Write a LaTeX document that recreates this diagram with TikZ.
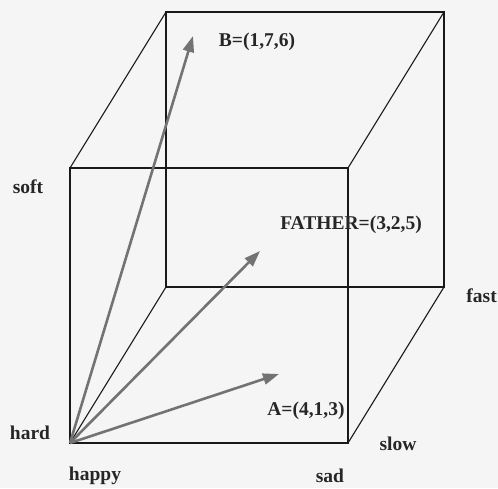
\documentclass[tikz,border=0pt]{standalone}
\usepackage{fontspec}
\setmainfont{Liberation Serif}
\usetikzlibrary{arrows.meta}
\begin{document}
\begin{tikzpicture}[x=1pt,y=-1pt,
  edge/.style={draw=black!90,line width=1.1pt},
  vec/.style={draw=black!55,line width=2.6pt,-{Triangle[length=16pt,width=11pt]}},
  lbl/.style={font=\fontsize{19.5}{19.5}\selectfont\bfseries,inner sep=0pt,text=black!85}]
\useasboundingbox (0,0) rectangle (498,488);
\fill[black!4] (0,0) rectangle (498,488);
% front face
\coordinate (f1) at (70,443);
\coordinate (f2) at (348,443);
\coordinate (f3) at (348,168);
\coordinate (f4) at (70,168);
% back face
\coordinate (b1) at (166,287);
\coordinate (b2) at (444,287);
\coordinate (b3) at (444,12);
\coordinate (b4) at (166,12);
\draw[edge] (b1) -- (b2) -- (b3) -- (b4) -- cycle;
\draw[edge] (f1) -- (b1) (f2) -- (b2) (f3) -- (b3) (f4) -- (b4);
\draw[edge] (f1) -- (f2) -- (f3) -- (f4) -- cycle;
% vectors
\coordinate (tB) at (193,36);
\coordinate (tF) at (260,251);
\coordinate (tA) at (279,374);
\draw[vec] (f1) -- (tB);
\draw[vec] (f1) -- (tF);
\draw[vec] (f1) -- (tA);
% labels
\node[lbl] (lB) at (257,42) {B=(1,7,6)};
\node[lbl] (lF) at (351,225) {FATHER=(3,2,5)};
\node[lbl] (lA) at (306,411) {A=(4,1,3)};
\node[lbl] (soft) at (28,187) {soft};
\node[lbl] (hard) at (30,433) {hard};
\node[lbl,anchor=east] (fast) at (497,296) {fast};
\node[lbl] (slow) at (398,444) {slow};
\node[lbl] (happy) at (95,476) {happy};
\node[lbl] (sad) at (330,476) {sad};
\end{tikzpicture}
\end{document}
